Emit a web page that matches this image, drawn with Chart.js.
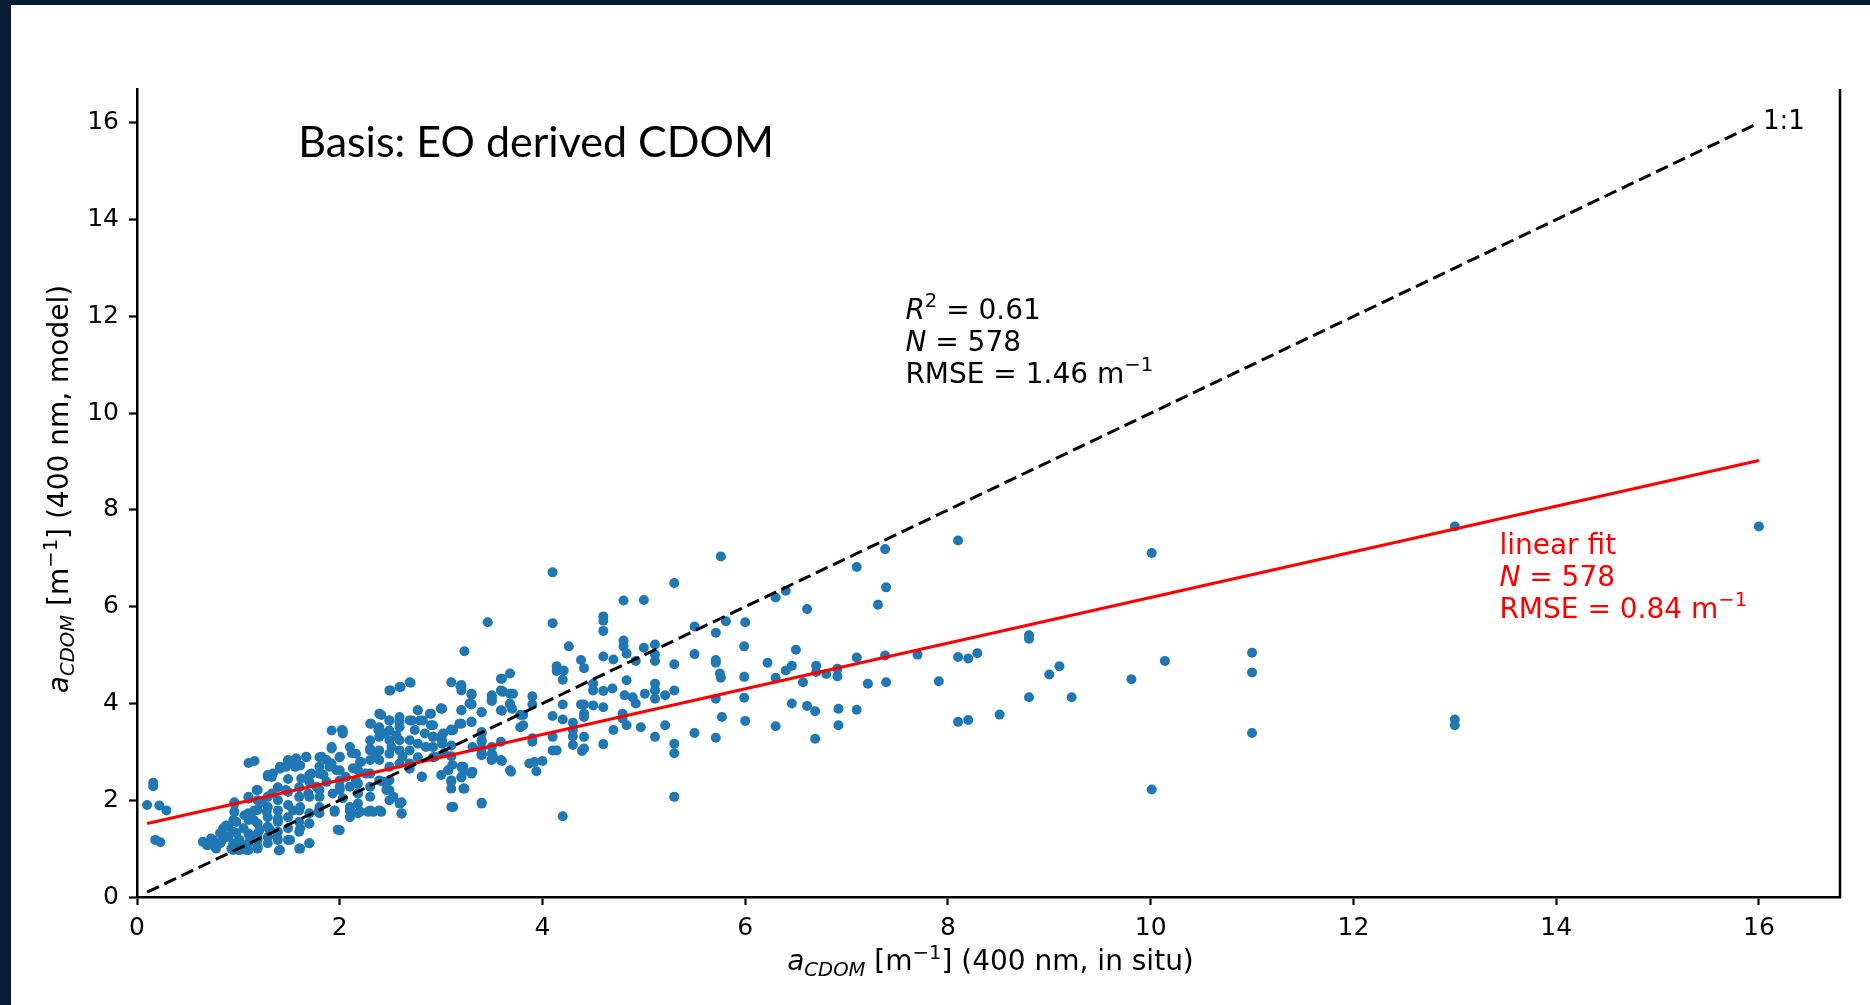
<!DOCTYPE html>
<html><head><meta charset="utf-8">
<script src="https://cdn.jsdelivr.net/npm/chart.js@4.4.1/dist/chart.umd.min.js"></script>
<style>
html,body{margin:0;padding:0;background:#fff;overflow:hidden;}
#wrap{position:relative;width:1870px;height:1005px;}
#c{position:absolute;left:0;top:0;width:1870px;height:1005px;}
.band{position:absolute;background:#061c36;}
</style></head><body>
<div id="wrap"><canvas id="c" width="1870" height="1005"></canvas>
<div class="band" style="left:0;top:0;width:1870px;height:5px"></div>
<div class="band" style="left:0;top:0;width:11px;height:1005px"></div>
</div>
<script>
// ---- data: [in situ a_CDOM, model a_CDOM] ----
const lowOutliers = [[0.16,2.36],[0.16,2.29],[0.10,1.90],[0.22,1.89],[0.29,1.79],[0.18,1.18],[0.23,1.13],[4.20,1.67]];
const denseCluster = [
[0.65,1.14],[0.70,1.07],[0.75,1.18],[0.78,1.00],[0.83,1.14],[0.88,1.24],[0.90,1.45],[0.95,1.35],[0.95,1.11],[0.95,0.97],[1.01,1.18],[1.01,0.97],[0.98,1.55],[0.96,1.76],[0.96,1.93],[1.10,1.73],[1.10,2.07],[1.10,1.59],[1.10,1.31],[1.10,1.11],[1.08,0.97],
[1.19,2.21],[1.19,2.00],[1.19,1.80],[1.19,1.52],[1.19,1.31],[1.19,1.18],[1.19,1.00],[1.10,2.77],[1.16,2.81],
[1.29,2.52],[1.33,2.48],[1.41,2.65],[1.47,2.69],[1.49,2.81],[1.57,2.86],[1.61,2.72],[1.67,2.89],
[1.29,2.07],[1.29,1.86],[1.29,1.65],[1.29,1.45],[1.29,1.24],[1.29,1.11],
[1.39,2.27],[1.39,2.00],[1.39,1.79],[1.39,1.55],[1.39,1.35],[1.39,1.18],[1.40,0.96],
[1.49,2.44],[1.49,2.17],[1.49,1.90],[1.49,1.65],[1.49,1.42],[1.49,1.18],
[1.60,2.27],[1.60,2.07],[1.60,1.79],[1.60,1.55],[1.60,1.35],[1.60,1.00],
[1.70,2.52],[1.70,2.38],[1.70,2.07],[1.70,1.73],[1.70,1.52],[1.70,1.11],
[1.80,2.21],[1.80,2.07],[1.80,1.86],[1.80,1.73],[1.80,2.89],[1.80,2.69],[1.80,2.55],
[1.87,2.83],[1.92,2.76],[1.92,3.07],[1.92,3.44],[2.03,3.44],[2.00,1.38],[1.95,1.79],
[2.00,2.89],[2.00,2.62],[2.00,2.41],[2.00,2.21],[2.03,2.04],[2.06,2.48],[2.10,3.10],[2.10,1.86],[2.10,1.65],
[2.16,2.96],[2.18,2.62],[2.18,2.34],[2.18,2.14],[2.18,1.93],[2.18,1.73],[2.20,2.79],
[2.30,3.58],[2.30,3.24],[2.30,3.03],[2.30,2.83],[2.30,2.55],[2.30,2.28],[2.30,2.07],[2.30,1.79],
[2.39,3.79],[2.39,3.51],[2.39,3.31],[2.39,3.03],[2.39,2.83],[2.39,2.41],[2.39,1.79],
[2.49,4.27],[2.49,3.65],[2.49,3.44],[2.49,3.24],[2.49,2.96],[2.49,2.69],[2.49,2.41],[2.49,2.21],[2.49,2.00],
[2.59,4.34],[2.59,3.72],[2.59,3.51],[2.59,3.24],[2.59,3.03],[2.59,2.76],[2.59,1.93],[2.61,1.72],
[2.69,4.44],[2.69,3.65],[2.69,3.24],[2.69,3.03],[2.69,2.65],
[2.77,3.86],[2.79,3.65],[2.77,3.17],[2.77,2.89],[2.81,2.48],
[2.90,3.79],[2.92,3.55],[2.92,3.31],[2.92,3.10],[2.92,2.89],
[0.69,1.07],[0.73,1.21],[0.77,1.04],[0.82,1.11],[0.82,1.32],[0.85,1.42],[0.88,1.48],[0.90,1.25],[0.93,1.00],[0.95,1.59],[0.96,1.96],[0.98,1.32],[1.00,0.97],[1.01,1.14],[1.05,1.42],[1.06,1.69],[1.10,2.03],[1.10,0.97],[1.11,1.25],[1.15,1.59],[1.16,1.79],[1.18,2.21],[1.19,1.04],[1.21,1.39],[1.23,1.96],[1.28,1.76],[1.29,2.49],[1.31,1.39],[1.33,2.14],[1.34,2.55],[1.38,1.25],[1.39,1.62],[1.41,0.97],[1.41,2.69],[1.47,2.21],[1.49,2.83],[1.51,1.18],[1.54,1.79],[1.56,2.69],[1.57,2.86],[1.61,1.00],[1.61,1.42],[1.61,1.86],[1.62,2.45],[1.67,2.90],[1.69,2.14],[1.70,1.52],[1.70,1.11],[1.72,2.55],[1.77,2.28],[1.79,1.76],[1.82,2.90],[1.84,2.52],[1.87,2.38],[1.90,2.69],[1.92,3.10],[1.93,2.14],[1.95,1.76],[1.97,2.62],[1.98,1.39],[2.00,2.90],[2.00,2.28],[2.02,3.45],[2.03,3.38],
[2.10,2.28],[2.10,1.79],[2.12,2.97],[2.13,2.66],[2.16,2.41],[2.18,2.14],[2.20,1.76],[2.21,2.79],[2.26,2.55],[2.28,1.76],[2.30,3.07],[2.31,3.58],[2.33,1.76],[2.36,2.90],[2.38,3.45],[2.41,3.76],[2.41,1.76],[2.43,2.38],[2.44,3.38],[2.46,2.21],[2.49,3.65],[2.51,3.10],[2.53,2.07],[2.56,3.34],[2.59,3.62],[2.61,1.73],[2.61,1.96],[2.62,2.90],[2.69,2.76],[2.71,3.65],[2.74,3.45],[2.77,3.86],[2.81,2.49],[2.82,3.65],[2.84,3.38],[2.85,3.10],[2.89,3.79],[2.90,3.55],[2.92,3.31],[2.94,2.90],
[2.50,4.27],[2.60,4.34],[2.70,4.43]
];
const midRange = [
[3.00,3.89],[3.00,3.31],[3.00,2.52],[3.02,3.38],[3.10,4.44],[3.10,3.44],[3.10,3.13],[3.10,2.41],[3.10,2.24],[3.12,1.86],
[3.20,4.34],[3.20,4.27],[3.20,3.86],[3.20,3.58],[3.20,2.69],[3.20,2.48],[3.22,2.24],[3.30,4.20],[3.30,3.99],[3.30,3.62],[3.30,2.58],
[3.40,3.82],[3.40,3.41],[3.40,3.24],[3.40,2.93],[3.40,1.93],[3.50,4.17],[3.50,4.06],[3.50,2.96],[3.50,2.83],
[3.59,4.51],[3.59,4.27],[3.59,3.86],[3.59,2.83],[3.68,4.62],[3.68,4.20],[3.68,4.00],[3.68,2.62],[3.78,3.76],[3.78,3.51],
[3.00,3.90],[3.03,2.97],[3.07,2.62],[3.10,2.38],[3.12,3.45],[3.22,2.69],[3.28,4.00],[3.31,3.10],[3.31,2.59],[3.40,3.21],[3.40,2.97],[3.50,3.10],[3.51,2.93],[3.61,4.24],[3.69,2.59],[3.71,4.20],
[3.23,5.08],[3.46,5.68],[3.20,4.38],
[5.76,7.04],[4.10,6.71],[5.30,6.49],[4.80,6.13],[5.00,6.14],[4.10,5.66],[4.60,5.80],[4.60,5.71],[4.60,5.50],[5.81,5.70],[6.00,5.68],[5.50,5.59],[5.71,5.46],
[4.26,5.18],[4.80,5.30],[4.80,5.18],[5.00,5.15],[5.11,5.22],[4.60,4.97],[4.70,4.91],[4.83,5.03],[4.38,4.90],[4.41,4.73],[4.92,4.88],[5.11,5.01],[5.11,4.88],[5.30,4.81],[5.50,5.02],[5.71,4.90],[5.71,4.84],[5.99,5.18],[6.22,4.84],
[4.14,4.77],[4.14,4.67],[4.21,4.68],[4.20,4.49],[3.60,4.51],[3.19,4.36],[3.30,4.18],[3.30,3.98],[3.50,4.13],[3.50,4.05],[3.60,4.26],
[3.01,3.89],[3.20,3.86],[3.40,3.82],[3.60,3.85],[3.68,3.98],[3.70,3.89],[3.90,4.15],[3.90,3.98],[3.81,3.76],[3.81,3.55],[4.10,3.74],[4.20,3.98],[4.20,3.67],
[4.50,4.41],[4.50,4.27],[4.60,4.26],[4.69,4.31],[4.38,3.98],[4.41,3.98],[4.41,3.79],[4.41,3.72],[4.50,3.96],[4.60,3.92],
[4.81,4.17],[4.83,4.48],[4.89,4.13],[4.92,4.00],[5.01,4.20],[5.11,4.41],[5.11,4.27],[5.11,4.10],[5.21,4.17],[5.30,4.27],
[4.79,3.79],[4.79,3.69],[4.83,3.55],[4.70,3.45],[4.97,3.51],[5.11,3.31],[5.21,3.55],[5.30,3.17],[5.30,2.97],[5.30,2.07],[5.50,3.39],[5.71,3.29],
[5.71,4.10],[5.77,3.72],[5.99,4.12],[6.00,3.64],[5.75,4.62],[5.76,4.53],[5.99,4.55],
[4.30,3.60],[4.30,3.45],[4.30,3.32],[4.30,3.14],[4.41,3.31],[4.41,3.07],[4.39,3.02],[4.60,3.16],[4.10,3.31],[4.10,3.03],[4.14,3.03],
[3.90,3.21],[3.90,3.28],[3.87,2.76],[3.92,2.79],[4.00,2.81],[3.94,2.60],[3.60,2.81],[3.50,2.84],[3.40,3.38],[3.40,2.95],[3.40,1.95],
[3.30,2.55],[3.22,2.59],[3.20,2.47],[3.23,2.24],[3.07,2.62],[3.10,1.86],[3.01,3.17],[3.10,3.46],[3.18,3.58],[3.30,3.62],[3.01,3.24],[3.10,2.91],[3.11,2.73],[3.40,3.07],[3.59,3.21]
];
const highRange = [
[6.30,6.19],[6.40,6.33],[6.61,5.95],[6.30,4.53],[6.30,3.53],[6.40,4.68],[6.46,4.78],[6.50,5.11],[6.46,4.00],[6.57,4.44],[6.61,3.95],[6.69,3.84],[6.69,3.27],[6.70,4.78],[6.70,4.65],[6.80,4.61],[6.91,4.72],[6.91,4.56],[6.92,3.89],[6.92,3.55],
[7.10,6.82],[7.10,4.95],[7.10,3.87],[7.21,4.41],[7.31,6.04],[7.38,7.19],[7.39,6.40],[7.38,4.99],[7.39,4.44],
[7.70,5.01],[7.91,4.46],[8.10,7.37],[8.10,4.96],[8.20,4.93],[8.29,5.04],[8.10,3.62],[8.20,3.66],[8.51,3.77],[8.80,5.41],[8.80,5.34],[8.80,4.13],
[9.00,4.60],[9.10,4.77],[9.22,4.13],[9.81,4.50],[10.01,7.11],[10.01,2.22],[10.14,4.88],[11.00,5.05],[11.00,4.64],[11.00,3.39],
[13.0,7.66],[13.0,3.67],[13.0,3.55],[16.0,7.66]
];
const oneToOneX = [0.1, 16];
const oneToOneY = [0.1, 16];
const fitX = [0.1, 16];
const fitY = [1.52, 9.02];
const xTicks = [0,2,4,6,8,10,12,14,16];
const yTicks = [0,2,4,6,8,10,12,14,16];

const allPoints = [].concat(lowOutliers, denseCluster, midRange, highRange).map(p => ({x:p[0], y:p[1]}));
const toXY = (xs, ys) => xs.map((x,i) => ({x, y: ys[i]}));

const FONT = '"DejaVu Sans", sans-serif';
function drawRuns(ctx, runs, x, y, align){
  let w = 0;
  runs.forEach(r => { ctx.font = r.font; w += ctx.measureText(r.text).width; });
  let cx = align === 'center' ? x - w/2 : x;
  runs.forEach(r => { ctx.font = r.font; ctx.fillText(r.text, cx, y + (r.dy||0)); cx += ctx.measureText(r.text).width; });
}
const S = 28, SS = 19.6;
const nf = `${S}px ${FONT}`, itf = `italic ${S}px ${FONT}`, sf = `${SS}px ${FONT}`, sif = `italic ${SS}px ${FONT}`;
function axisRuns(suffix){
  return [
    {text:'a', font:itf},
    {text:'CDOM', font:sif, dy:6},
    {text:' [m', font:nf},
    {text:'\u22121', font:sf, dy:-11},
    {text:'] ' + suffix, font:nf}
  ];
}

const annot = {
  id:'annot',
  afterDraw(chart){
    const {ctx, chartArea:ca, scales:{x, y}} = chart;
    ctx.save();
    // right spine
    ctx.strokeStyle = '#000'; ctx.lineWidth = 2.5;
    ctx.beginPath(); ctx.moveTo(ca.right, ca.top); ctx.lineTo(ca.right, ca.bottom + 1); ctx.stroke();
    ctx.textBaseline = 'alphabetic'; ctx.textAlign = 'left';
    // title
    ctx.fillStyle = '#000';
    ctx.font = `43px Lato, "Open Sans", sans-serif`;
    ctx.fillText('Basis: EO derived CDOM', x.getPixelForValue(1.59), y.getPixelForValue(15.29));
    // 1:1 label
    ctx.font = `26px ${FONT}`;
    ctx.fillText('1:1', x.getPixelForValue(16.04), y.getPixelForValue(15.87));
    // stats block
    const sx = x.getPixelForValue(7.58), sy = y.getPixelForValue(11.95), lh = 32.2;
    drawRuns(ctx, [{text:'R', font:itf},{text:'2', font:sf, dy:-12},{text:' = 0.61', font:nf}], sx, sy);
    drawRuns(ctx, [{text:'N', font:itf},{text:' = 578', font:nf}], sx, sy + lh);
    drawRuns(ctx, [{text:'RMSE = 1.46 m', font:nf},{text:'\u22121', font:sf, dy:-12}], sx, sy + 2*lh);
    // fit block
    ctx.fillStyle = '#ff0000';
    const fx = x.getPixelForValue(13.44), fy = y.getPixelForValue(7.08), fl = 31.6;
    drawRuns(ctx, [{text:'linear fit', font:nf}], fx, fy);
    drawRuns(ctx, [{text:'N', font:itf},{text:' = 578', font:nf}], fx, fy + fl);
    drawRuns(ctx, [{text:'RMSE = 0.84 m', font:nf},{text:'\u22121', font:sf, dy:-12}], fx, fy + 2*fl);
    // axis titles
    ctx.fillStyle = '#000';
    drawRuns(ctx, axisRuns('(400 nm, in situ)'), (ca.left + ca.right)/2 + 2, 970, 'center');
    ctx.translate(68, (ca.top + ca.bottom)/2 - 4);
    ctx.rotate(-Math.PI/2);
    drawRuns(ctx, axisRuns('(400 nm, model)'), 0, 0, 'center');
    ctx.restore();
  }
};

const tickCfg = {color:'#000', font:{family:'DejaVu Sans', size:25}, padding:8, stepSize:2, includeBounds:false, maxRotation:0, autoSkip:false};
const gridCfg = {display:true, drawOnChartArea:false, drawTicks:true, tickLength:8, tickWidth:2.2, tickColor:'#000'};
const borderCfg = {display:true, color:'#000', width:2.5};

new Chart(document.getElementById('c'), {
  data:{datasets:[
    {type:'scatter', data:allPoints, backgroundColor:'#1f77b4', pointRadius:5, pointBorderWidth:0, pointHoverRadius:5, order:3},
    {type:'line', data:toXY(oneToOneX, oneToOneY), borderColor:'#000', borderWidth:3, borderDash:[13,6], pointRadius:0, fill:false, order:1},
    {type:'line', data:toXY(fitX, fitY), borderColor:'#ff0000', borderWidth:3, pointRadius:0, fill:false, order:2}
  ]},
  options:{
    responsive:false, animation:false, devicePixelRatio:1, events:[],
    layout:{padding:{top:89, right:30, left:0, bottom:0}},
    plugins:{legend:{display:false}, tooltip:{enabled:false}, title:{display:false}},
    scales:{
      x:{type:'linear', min:0, max:16.8, afterFit(s){s.height = 108;},
         afterBuildTicks(s){ s.ticks = xTicks.map(v => ({value:v})); },
         ticks:tickCfg, grid:gridCfg, border:borderCfg},
      y:{type:'linear', min:0, max:16.7, afterFit(s){s.width = 137;},
         afterBuildTicks(s){ s.ticks = yTicks.map(v => ({value:v})); },
         ticks:Object.assign({}, tickCfg, {padding:10}), grid:gridCfg, border:borderCfg}
    }
  },
  plugins:[annot]
});
</script></body></html>
